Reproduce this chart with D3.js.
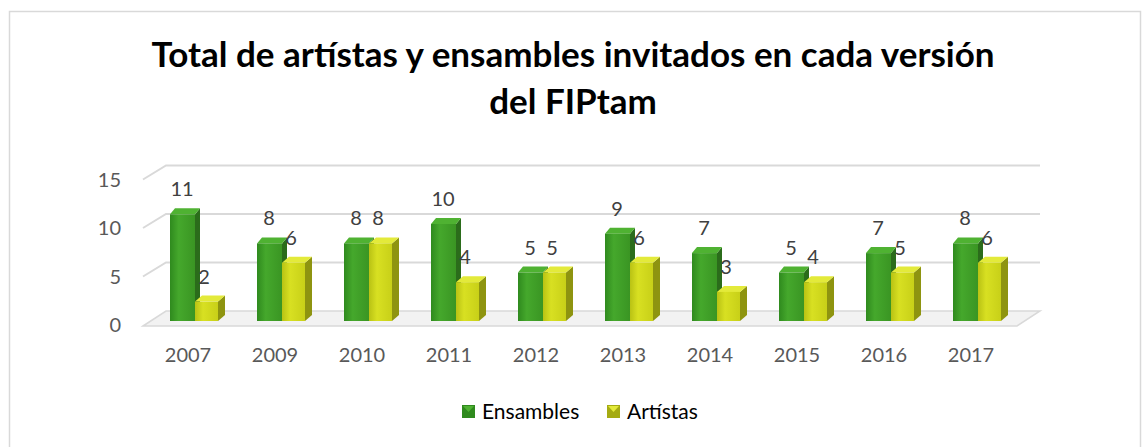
<!DOCTYPE html>
<html>
<head>
<meta charset="utf-8">
<script src="https://cdn.jsdelivr.net/npm/d3@7"></script>
<style>
  body { margin: 0; background: #fff; }
  svg text { font-family: Lato, "Open Sans", sans-serif; }
</style>
</head>
<body>
<div id="chart"></div>
<script>
// data
let years = ["2007", "2009", "2010", "2011", "2012", "2013", "2014", "2015", "2016", "2017"];
let ensambles = [11, 8, 8, 10, 5, 9, 7, 5, 7, 8];
let artistas = [2, 6, 8, 4, 5, 6, 3, 4, 5, 6];
let yTicks = [0, 5, 10, 15];
let seriesNames = ["Ensambles", "Artístas"];

let width = 1144, height = 447;

let svg = d3.select("#chart")
            .append("svg")
            .attr("width", width)
            .attr("height", height);

svg.append("rect")
   .attr("x", 9.5).attr("y", 11.5)
   .attr("width", 1131).attr("height", 450)
   .attr("fill", "#fff")
   .attr("stroke", "#d9d9d9")
   .attr("stroke-width", 1.5);

// title
let title = svg.append("text")
   .attr("text-anchor", "middle")
   .attr("font-weight", "bold")
   .attr("fill", "#000")
   .style("font-size", "35px");
title.append("tspan").attr("x", 573).attr("y", 67).text("Total de artístas y ensambles invitados en cada versión");
title.append("tspan").attr("x", 573).attr("y", 114).text("del FIPtam");

let x = d3.scalePoint()
          .domain(years)
          .range([188, 971]);

let y = d3.scaleLinear()
          .domain([0, 15])
          .range([325, 179.5]);

// depth of the 3d wall
let wallDx = 23, wallDy = -14;
let left = 143, right = 1017;

// floor
svg.append("polygon")
   .attr("points", [[left, y(0) + 1], [left + wallDx, y(0) + wallDy], [right + wallDx, y(0) + wallDy], [right, y(0) + 1]].join(" "))
   .attr("fill", "#f2f2f2")
   .attr("stroke", "#d9d9d9")
   .attr("stroke-width", 1.5);

// gridlines
svg.append("g")
   .selectAll("polyline")
   .data(yTicks.slice(1))
   .enter()
   .append("polyline")
   .attr("points", function(d) { return [[left, y(d)], [left + wallDx, y(d) + wallDy], [right + wallDx, y(d) + wallDy]].join(" "); })
   .attr("fill", "none")
   .attr("stroke", "#d9d9d9")
   .attr("stroke-width", 2);

// y labels
svg.append("g")
   .selectAll("text")
   .data(yTicks)
   .enter()
   .append("text")
   .attr("x", 121)
   .attr("y", function(d) { return y(d) + 7; })
   .attr("text-anchor", "end")
   .attr("fill", "#595959")
   .style("font-size", "20px")
   .text(function(d) { return d; });

// x labels
svg.append("g")
   .selectAll("text")
   .data(years)
   .enter()
   .append("text")
   .attr("x", function(d) { return x(d); })
   .attr("y", 362)
   .attr("text-anchor", "middle")
   .attr("fill", "#595959")
   .style("font-size", "20px")
   .text(function(d) { return d; });

// shading defs
let defs = svg.append("defs");
function grad(id, stops) {
  let g = defs.append("linearGradient").attr("id", id).attr("x1", 0).attr("x2", 1).attr("y1", 0).attr("y2", 0);
  stops.forEach(function(s) { g.append("stop").attr("offset", s[0]).attr("stop-color", s[1]); });
}
grad("gFront", [[0, "#2f8a1e"], [0.35, "#45a82c"], [1, "#3a9523"]]);
grad("yFront", [[0, "#b9c214"], [0.35, "#d8e022"], [1, "#c8d018"]]);

let series = [
  { name: seriesNames[0], values: ensambles, x0: -18, w: 25, d: 5, front: "url(#gFront)", side: "#2b6c1b", top: "#4fb232", lab: -6 },
  { name: seriesNames[1], values: artistas, x0: 7, w: 23, d: 7, front: "url(#yFront)", side: "#8e9410", top: "#e3ea3a", lab: 16 }
];
let base = y(0) - 4;
let depthDy = -6;

series.forEach(function(s) {
  let g = svg.append("g");
  let bars = g.selectAll("g")
              .data(years)
              .enter()
              .append("g");

  // side
  bars.append("polygon")
      .attr("points", function(d, i) {
        let x1 = x(d) + s.x0 + s.w, top = base - (y(0) - y(s.values[i]));
        return [[x1, base], [x1 + s.d, base + depthDy], [x1 + s.d, top + depthDy], [x1, top]].join(" ");
      })
      .attr("fill", s.side);

  // top
  bars.append("polygon")
      .attr("points", function(d, i) {
        let x1 = x(d) + s.x0, top = base - (y(0) - y(s.values[i]));
        return [[x1, top], [x1 + s.d, top + depthDy], [x1 + s.w + s.d, top + depthDy], [x1 + s.w, top]].join(" ");
      })
      .attr("fill", s.top);

  // front
  bars.append("rect")
      .attr("x", function(d) { return x(d) + s.x0; })
      .attr("y", function(d, i) { return base - (y(0) - y(s.values[i])); })
      .attr("width", s.w)
      .attr("height", function(d, i) { return y(0) - y(s.values[i]); })
      .attr("fill", s.front);

  // value labels
  bars.append("text")
      .attr("x", function(d) { return x(d) + s.lab; })
      .attr("y", function(d, i) { return base - (y(0) - y(s.values[i])) - 18; })
      .attr("text-anchor", "middle")
      .attr("fill", "#404040")
      .style("font-size", "20px")
      .text(function(d, i) { return s.values[i]; });
});

// legend
let legend = svg.append("g");
let legendX = [462, 607];
let legendColors = [["#2f8a1e", "#4fb232"], ["#a5ab12", "#e3ea3a"]];
seriesNames.forEach(function(n, i) {
  legend.append("rect")
        .attr("x", legendX[i]).attr("y", 405)
        .attr("width", 13).attr("height", 13)
        .attr("fill", legendColors[i][0]);
  legend.append("polygon")
        .attr("points", [[legendX[i] + 1, 406], [legendX[i] + 12, 406], [legendX[i] + 6.5, 412]].join(" "))
        .attr("fill", legendColors[i][1]);
  legend.append("text")
        .attr("x", legendX[i] + 20)
        .attr("y", 419)
        .attr("fill", "#000")
        .style("font-size", "21px")
        .text(n);
});
</script>
</body>
</html>
